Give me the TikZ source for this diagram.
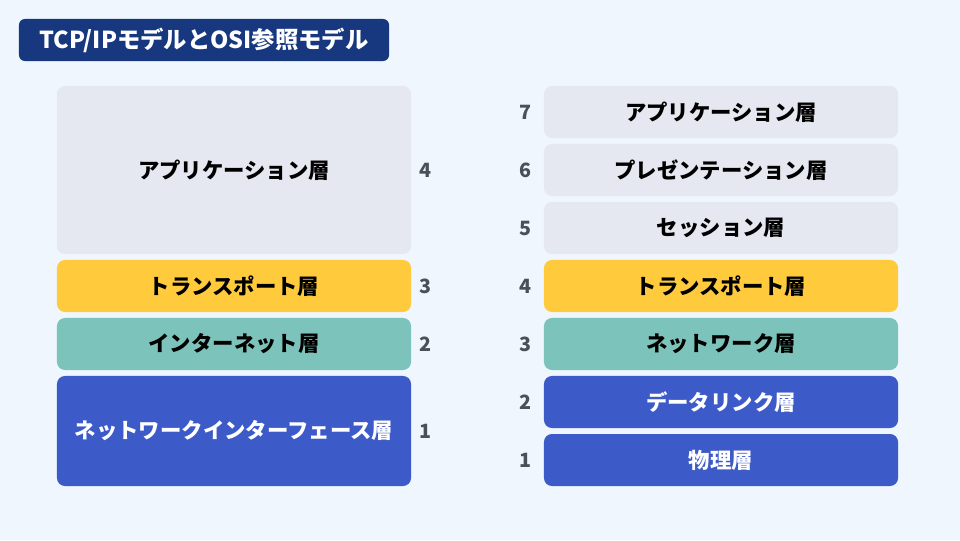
\documentclass[tikz,border=0pt]{standalone}
\usepackage{fontspec}
\setmainfont{Noto Sans CJK JP}
\usetikzlibrary{backgrounds}
\definecolor{page bg}{RGB}{239, 246, 253}
\definecolor{title blue}{RGB}{23, 56, 126}
\definecolor{light gray}{RGB}{229, 232, 240}
\definecolor{yellow}{RGB}{255, 203, 61}
\definecolor{teal}{RGB}{124, 196, 187}
\definecolor{blue}{RGB}{61, 91, 200}
\definecolor{number gray}{RGB}{75, 80, 88}

\begin{document}
\begin{tikzpicture}[
        x=0.025cm, y=-0.025cm,
        background rectangle/.style={fill=page bg},
        show background rectangle,
        inner frame sep=0pt,
        layer/.style={
            rounded corners=0.2cm,
            minimum width=8.85cm,
            minimum height=1.3cm,
            inner sep=0pt,
            font=\bfseries\fontsize{15.2}{18}\selectfont
        },
        number/.style={
            text=number gray,
            font=\bfseries\fontsize{14}{17}\selectfont
        }
    ]
    \useasboundingbox (0,0) rectangle (960,540);

    % title
    \node[fill=title blue, rounded corners=0.15cm, minimum width=9.25cm,
        minimum height=1.05cm, inner sep=0pt, text=white,
        font=\bfseries\fontsize{16.6}{19}\selectfont] (title) at (204,40)
        {TCP/IPモデルとOSI参照モデル};

    % TCP/IP model
    \node[layer, fill=light gray, minimum height=4.2cm] (tcp app) at (234,170) {アプリケーション層};
    \node[layer, fill=yellow] (tcp transport) at (234,286) {トランスポート層};
    \node[layer, fill=teal] (tcp internet) at (234,344) {インターネット層};
    \node[layer, fill=blue, text=white, minimum height=2.75cm] (tcp link) at (234,431) {ネットワークインターフェース層};

    \node[number] (tcp 4) at (425,170) {4};
    \node[number] (tcp 3) at (425,286) {3};
    \node[number] (tcp 2) at (425,344) {2};
    \node[number] (tcp 1) at (425,431) {1};

    % OSI model
    \node[layer, fill=light gray] (osi 7) at (721,112) {アプリケーション層};
    \node[layer, fill=light gray] (osi 6) at (721,170) {プレゼンテーション層};
    \node[layer, fill=light gray] (osi 5) at (721,228) {セッション層};
    \node[layer, fill=yellow] (osi 4) at (721,286) {トランスポート層};
    \node[layer, fill=teal] (osi 3) at (721,344) {ネットワーク層};
    \node[layer, fill=blue, text=white] (osi 2) at (721,402) {データリンク層};
    \node[layer, fill=blue, text=white] (osi 1) at (721,460) {物理層};

    \foreach \n/\y in {7/112, 6/170, 5/228, 4/286, 3/344, 2/402, 1/460}
        \node[number] (osi num \n) at (525,\y) {\n};
\end{tikzpicture}
\end{document}
